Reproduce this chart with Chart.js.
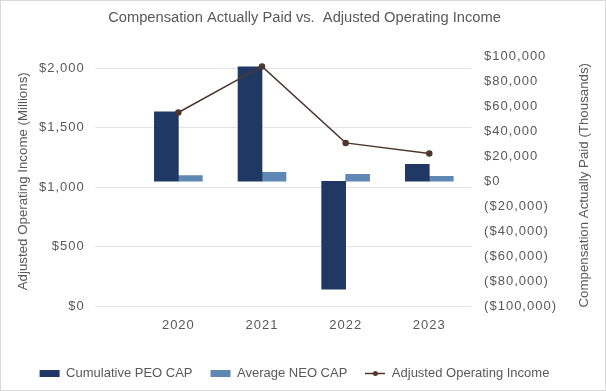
<!DOCTYPE html>
<html>
<head>
<meta charset="utf-8">
<script src="https://cdn.jsdelivr.net/npm/chart.js@4"></script>
<style>
  html, body { margin: 0; padding: 0; background: #fff; }
  #wrap { position: relative; width: 606px; height: 391px; }
</style>
</head>
<body>
<div id="wrap"><canvas id="capChart"></canvas></div>
<script>
// values
const years = [2020, 2021, 2022, 2023];
const peoCap = [55500, 91400, -86300, 13500]; // $ thousands (right axis)
const neoCap = [4500, 7200, 5600, 4000]; // $ thousands (right axis)
const opIncome = [1627, 2014, 1372, 1283]; // $ millions (left axis)
const leftTicks = [0, 500, 1000, 1500, 2000];
const rightTicks = [-100000, -80000, -60000, -40000, -20000, 0, 20000, 40000, 60000, 80000, 100000];

const peoColor = "#203864";
const neoColor = "#5f89b4";
const lineColor = "#4e362f";
const textColor = "#595959";

Chart.defaults.font.family = "'Liberation Sans', Arial, sans-serif";
Chart.defaults.color = textColor;

const money = (v) => {
  const s = `$${Math.abs(v).toLocaleString("en-US")}`;
  return v < 0 ? `(${s})` : s;
};

// little line-with-dot marker for the legend
const lineMarker = document.createElement("canvas");
lineMarker.width = 20;
lineMarker.height = 7;
const mctx = lineMarker.getContext("2d");
mctx.strokeStyle = lineColor;
mctx.fillStyle = lineColor;
mctx.lineWidth = 1.5;
mctx.beginPath();
mctx.moveTo(0, 3.5);
mctx.lineTo(20, 3.5);
mctx.stroke();
mctx.beginPath();
mctx.arc(10, 3.5, 2.5, 0, Math.PI * 2);
mctx.fill();

const framePlugin = {
  id: "framePlugin",
  afterLayout(chart) {
    // legend sits a bit left of centre in the original
    chart.legend.left -= 10;
    chart.legend.right -= 10;
  },
  beforeDraw(chart) {
    const { ctx, width, height } = chart;
    ctx.save();
    ctx.fillStyle = "#fff";
    ctx.fillRect(0, 0, width, height);
    ctx.strokeStyle = "#d9d9d9";
    ctx.lineWidth = 1;
    ctx.strokeRect(0.5, 0.5, width - 1, height - 1);
    ctx.restore();
  },
  afterDatasetsDraw(chart) {
    chart.ctx.letterSpacing = "1px";
  },
  afterDraw(chart) {
    const { ctx, chartArea } = chart;
    ctx.letterSpacing = "0px";
    ctx.save();
    ctx.translate(chartArea.right + 113, (chartArea.top + chartArea.bottom) / 2 + 4);
    ctx.rotate(-Math.PI / 2);
    ctx.font = "13.3px 'Liberation Sans', Arial, sans-serif";
    ctx.fillStyle = textColor;
    ctx.textAlign = "center";
    ctx.textBaseline = "middle";
    ctx.fillText("Compensation Actually Paid (Thousands)", 0, 0);
    ctx.restore();
  },
};

const tickFont = { size: 13 };

const chart = new Chart(document.getElementById("capChart"), {
  type: "bar",
  data: {
    datasets: [
      {
        label: "Cumulative PEO CAP",
        data: years.map((y, i) => ({ x: y, y: peoCap[i] })),
        yAxisID: "y1",
        backgroundColor: peoColor,
        barThickness: 24,
        order: 1,
      },
      {
        label: "Average NEO CAP",
        data: years.map((y, i) => ({ x: y, y: neoCap[i] })),
        yAxisID: "y1",
        backgroundColor: neoColor,
        barThickness: 24,
        order: 1,
      },
      {
        type: "line",
        label: "Adjusted Operating Income",
        data: years.map((y, i) => ({ x: y, y: opIncome[i] })),
        yAxisID: "y",
        borderColor: lineColor,
        backgroundColor: lineColor,
        borderWidth: 1.5,
        pointRadius: 2.5,
        pointHoverRadius: 2.5,
        tension: 0,
        order: 0,
      },
    ],
  },
  options: {
    responsive: true,
    maintainAspectRatio: false,
    animation: false,
    layout: { padding: { left: 7, right: 4, top: 1, bottom: 1 } },
    plugins: {
      title: {
        display: true,
        text: "Compensation Actually Paid vs.  Adjusted Operating Income",
        color: textColor,
        font: { size: 14.7, weight: "normal" },
        padding: { top: 8, bottom: 29.5 },
      },
      legend: {
        position: "bottom",
        labels: {
          color: textColor,
          font: { size: 13 },
          boxWidth: 20,
          boxHeight: 7,
          usePointStyle: true,
          pointStyleWidth: 20,
          padding: 18,
          generateLabels(c) {
            const items = Chart.defaults.plugins.legend.labels.generateLabels(c);
            items.sort((a, b) => a.datasetIndex - b.datasetIndex);
            items.forEach((it) => {
              it.pointStyle = c.data.datasets[it.datasetIndex].type === "line" ? lineMarker : "rect";
              it.lineWidth = 0;
            });
            return items;
          },
        },
      },
      tooltip: { enabled: false },
    },
    scales: {
      x: {
        type: "linear",
        min: 2019,
        max: 2023.5,
        offset: false,
        grid: { display: false, drawTicks: false },
        border: { display: false },
        ticks: { padding: 11, font: tickFont, color: textColor, z: 1, callback: (v) => String(v) },
        afterBuildTicks: (s) => { s.ticks = years.map((v) => ({ value: v })); },
        afterFit: (s) => { s.height += 5; },
      },
      y: {
        position: "left",
        min: 0,
        max: 2100,
        grid: { color: "#e4e4e4", drawTicks: false },
        border: { display: false },
        ticks: { padding: 10, font: tickFont, color: textColor, z: 1, callback: (v) => money(v) },
        afterBuildTicks: (s) => { s.ticks = leftTicks.map((v) => ({ value: v })); },
        title: {
          display: true,
          text: "Adjusted Operating Income (Millions)",
          color: textColor,
          font: { size: 13.3 },
          padding: { top: 8, bottom: 4 },
        },
      },
      y1: {
        position: "right",
        min: -100000,
        max: 100000,
        grid: { display: false, drawTicks: false },
        border: { display: false },
        ticks: { padding: 13, font: tickFont, color: textColor, z: 1, callback: (v) => money(v) },
        afterBuildTicks: (s) => { s.ticks = rightTicks.map((v) => ({ value: v })); },
        afterFit: (s) => { s.width += 42; },
      },
    },
  },
  plugins: [framePlugin],
});
</script>
</body>
</html>
